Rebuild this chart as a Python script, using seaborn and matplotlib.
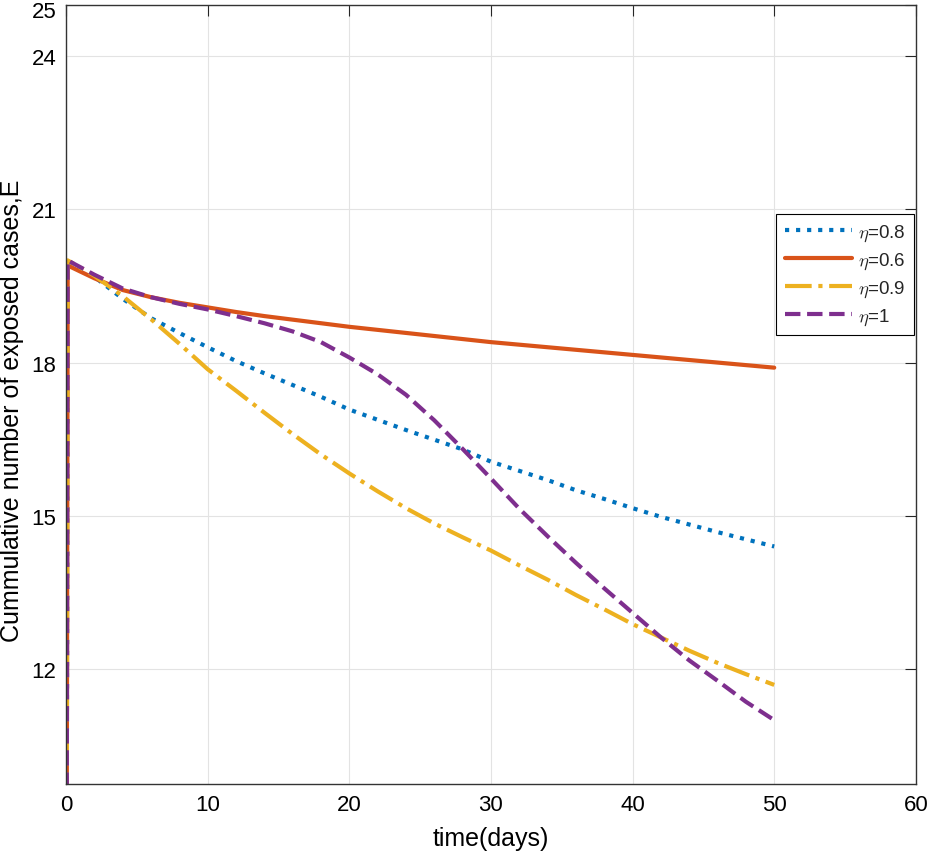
import pandas as pd
import seaborn as sns
import matplotlib.pyplot as plt
import matplotlib.transforms as mtransforms

# time points (days)
t = [0, 0.12, 2, 4, 6, 8, 10, 12, 14, 16, 18, 20, 22, 24, 26, 28, 30,
     32, 34, 36, 38, 40, 42, 44, 46, 48, 50]

# cumulative exposed cases for each eta
e_08 = [0, 20.0, 19.68, 19.25, 18.87, 18.58, 18.30, 18.03, 17.79, 17.56, 17.33,
        17.08, 16.88, 16.68, 16.49, 16.30, 16.06, 15.88, 15.70, 15.50, 15.33,
        15.15, 14.98, 14.83, 14.68, 14.54, 14.40]
e_06 = [0, 19.9, 19.65, 19.42, 19.28, 19.17, 19.08, 18.99, 18.91, 18.84, 18.77,
        18.70, 18.64, 18.58, 18.52, 18.46, 18.40, 18.35, 18.30, 18.25, 18.20,
        18.15, 18.10, 18.05, 18.00, 17.95, 17.90]
e_09 = [0, 20.0, 19.70, 19.30, 18.85, 18.37, 17.87, 17.45, 17.02, 16.60, 16.20,
        15.83, 15.48, 15.15, 14.85, 14.58, 14.32, 14.03, 13.75, 13.45, 13.17,
        12.88, 12.62, 12.36, 12.12, 11.90, 11.69]
e_10 = [0, 20.0, 19.72, 19.45, 19.28, 19.15, 19.04, 18.91, 18.77, 18.61, 18.40,
        18.10, 17.77, 17.37, 16.87, 16.31, 15.73, 15.14, 14.60, 14.08, 13.58,
        13.10, 12.62, 12.17, 11.77, 11.36, 11.00]

labels = [r'$\eta$=0.8', r'$\eta$=0.6', r'$\eta$=0.9', r'$\eta$=1']
series = [e_08, e_06, e_09, e_10]
colors = ['#0072BD', '#D95319', '#EDB120', '#7E2F8E']
styles = [':', '-', '-.', '--']

x_ticks = [0, 10, 20, 30, 40, 50, 60]
y_ticks = [12, 15, 18, 21, 24, 25]

sns.set_style('whitegrid')
plt.rcParams['font.family'] = ['Liberation Sans', 'DejaVu Sans']
plt.rcParams['mathtext.fontset'] = 'cm'

fig = plt.figure(figsize=(9.27, 8.54), dpi=100)
ax = fig.add_axes([0.0712, 0.0808, 0.9168, 0.9122])

for vals, lab, col, ls in zip(series, labels, colors, styles):
    df = pd.DataFrame({'t': t, 'E': vals})
    sns.lineplot(data=df, x='t', y='E', ax=ax, color=col, linestyle=ls,
                 linewidth=3.0, label=lab, estimator=None, sort=False)

ax.set_xlim(0, 60)
ax.set_ylim(9.75, 25)
ax.set_xticks(x_ticks)
ax.set_yticks(y_ticks)
ax.tick_params(direction='in', length=8, width=0.8, labelsize=16, pad=7,
               top=True, right=True, colors='#262626', labelcolor='black')
ax.grid(True, color='#e3e3e3', linewidth=0.8)
for s in ax.spines.values():
    s.set_color('#333333')
    s.set_linewidth(1.0)
ax.set_xlabel('time(days)', fontsize=18, color='black', labelpad=8)
ax.set_ylabel('Cummulative number of exposed cases,E', fontsize=18,
              color='black')
ax.yaxis.set_label_coords(-0.049, 0.48)

# nudge the top "25" label down so it is not cut at the figure edge
top_lab = ax.get_yticklabels()[-1]
top_lab.set_transform(top_lab.get_transform() +
                      mtransforms.ScaledTranslation(0, -4 / 100, fig.dpi_scale_trans))

leg = ax.legend(loc='upper right', bbox_to_anchor=(0.9975, 0.732),
                borderaxespad=0, fontsize=13.5, handlelength=3.6,
                frameon=True, fancybox=False, framealpha=1,
                edgecolor='black', borderpad=0.45, labelspacing=0.4,
                handletextpad=0.3)
leg.get_frame().set_linewidth(0.8)

fig.savefig('out.png', dpi=100)
